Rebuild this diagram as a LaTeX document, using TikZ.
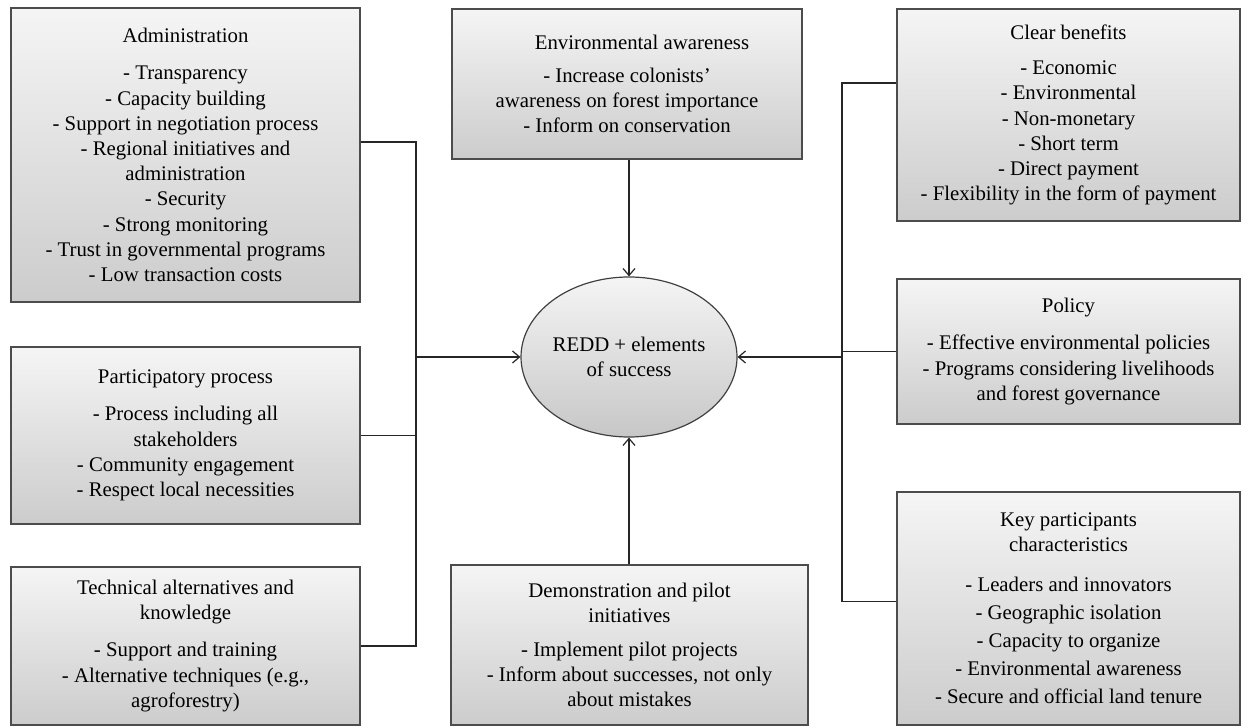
\documentclass[tikz,border=0pt]{standalone}
\usepackage{fontspec}
\setmainfont{Liberation Serif}
\usetikzlibrary{shapes.geometric,arrows.meta,calc}

\begin{document}
\begin{tikzpicture}[x=0.5pt,y=-0.5pt,
    box/.style={draw=black!70, line width=0.65pt, top color=black!4, bottom color=black!20,
        align=center, inner sep=0pt, font=\fontsize{10.4}{12.6}\selectfont},
    goalnode/.style={ellipse, draw=black!75, line width=0.6pt, top color=black!4, bottom color=black!22,
        align=center, inner sep=0pt, minimum width=108pt, minimum height=80pt,
        font=\fontsize{10.4}{12.6}\selectfont},
    link/.style={draw=black!85, line width=0.6pt},
    arr/.style={link, -{Straight Barb[length=3.5pt,width=6pt]}}]

    \useasboundingbox (0,0) rectangle (1241,726);

    % centre
    \node[goalnode] (goal) at (629,357) {REDD + elements\\of success};

    % left column
    \node[box, minimum width=174.5pt, minimum height=147pt] (adm) at (185.5,155)
        {Administration\\[6pt]
        - Transparency\\- Capacity building\\- Support in negotiation process\\
        - Regional initiatives and\\administration\\- Security\\- Strong monitoring\\
        - Trust in governmental programs\\- Low transaction costs};
    \node[box, minimum width=174.5pt, minimum height=88.5pt] (part) at (185.5,435.5)
        {Participatory process\\[6pt]
        - Process including all\\stakeholders\\- Community engagement\\- Respect local necessities};
    \node[box, minimum width=174.5pt, minimum height=79pt] (tech) at (185.5,646)
        {Technical alternatives and\\knowledge\\[6pt]
        - Support and training\\- Alternative techniques (e.g.,\\agroforestry)};

    % middle column
    \node[box, minimum width=175pt, minimum height=75pt] (env) at (627,84)
        {\hspace*{15pt}Environmental awareness\\[4pt]
        - Increase colonists'\\awareness on forest importance\\- Inform on conservation};
    \node[box, minimum width=178.5pt, minimum height=80pt] (demo) at (629.5,645)
        {Demonstration and pilot\\initiatives\\[4pt]
        - Implement pilot projects\\- Inform about successes, not only\\about mistakes};

    % right column
    \node[box, minimum width=171.5pt, minimum height=106pt] (ben) at (1068.5,115)
        {Clear benefits\\[5pt]
        - Economic\\- Environmental\\- Non-monetary\\- Short term\\- Direct payment\\
        - Flexibility in the form of payment};
    \node[box, minimum width=171.5pt, minimum height=72.5pt] (pol) at (1068.5,351.5)
        {Policy\\[6pt]
        - Effective environmental policies\\- Programs considering livelihoods\\and forest governance};
    \node[box, minimum width=171.5pt, minimum height=116.5pt] (key) at (1068.5,608.5)
        {Key participants\\characteristics\\[7pt]
        - Leaders and innovators\\[1.5pt]- Geographic isolation\\[1.5pt]- Capacity to organize\\[1.5pt]
        - Environmental awareness\\[1.5pt]- Secure and official land tenure};

    % connectors
    \coordinate (lbus) at (416,357);
    \coordinate (rbus) at (842,357);
    \draw[link] ($(adm.east)+(0,-13)$) -| (lbus) |- (tech.east);
    \draw[link] (part.east) -- (part.east -| lbus);
    \draw[arr] (lbus) -- (goal.west);
    \draw[link] ($(ben.west)+(0,-32)$) -| (rbus) |- ($(key.west)+(0,-7)$);
    \draw[link] (pol.west) -- (pol.west -| rbus);
    \draw[arr] (rbus) -- (goal.east);
    \draw[arr] (goal.north |- env.south) -- (goal.north);
    \draw[arr] (goal.south |- demo.north) -- (goal.south);
\end{tikzpicture}
\end{document}
